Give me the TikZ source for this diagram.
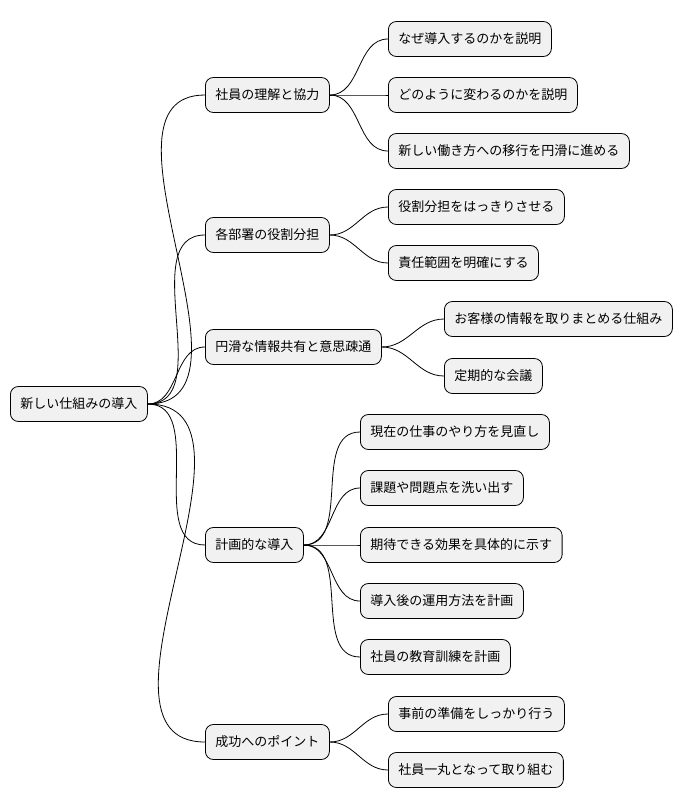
\documentclass[tikz,border=0pt]{standalone}
\usepackage{fontspec}
\setmainfont{Noto Sans CJK JP}
\begin{document}
\begin{tikzpicture}[x=1pt,y=-1pt,
  box/.style={draw=black,line width=0.8pt,fill={rgb,255:red,241;green,241;blue,241},rounded corners=8pt,minimum height=35pt,inner xsep=10pt,anchor=west,font=\fontsize{13}{15}\selectfont},
  con/.style={line width=0.8pt}]
\useasboundingbox (0,0) rectangle (698,809);
\node[box] (r) at (10,404) {新しい仕組みの導入};
\node[box] (a) at (205,95) {社員の理解と協力};
\node[box] (b) at (205,235) {各部署の役割分担};
\node[box] (c) at (205,347) {円滑な情報共有と意思疎通};
\node[box] (d) at (205,545) {計画的な導入};
\node[box] (e) at (205,742) {成功へのポイント};
\node[box] (a1) at (388,39) {なぜ導入するのかを説明};
\node[box] (a2) at (388,95) {どのように変わるのかを説明};
\node[box] (a3) at (388,151) {新しい働き方への移行を円滑に進める};
\node[box] (b1) at (388,207) {役割分担をはっきりさせる};
\node[box] (b2) at (388,263) {責任範囲を明確にする};
\node[box] (c1) at (444,319) {お客様の情報を取りまとめる仕組み};
\node[box] (c2) at (444,376) {定期的な会議};
\node[box] (d1) at (360,432) {現在の仕事のやり方を見直し};
\node[box] (d2) at (360,488) {課題や問題点を洗い出す};
\node[box] (d3) at (360,545) {期待できる効果を具体的に示す};
\node[box] (d4) at (360,601) {導入後の運用方法を計画};
\node[box] (d5) at (360,657) {社員の教育訓練を計画};
\node[box] (e1) at (388,714) {事前の準備をしっかり行う};
\node[box] (e2) at (388,770) {社員一丸となって取り組む};
\foreach \p/\c in {r/a,r/b,r/c,r/d,r/e,a/a1,a/a2,a/a3,b/b1,b/b2,c/c1,c/c2,d/d1,d/d2,d/d3,d/d4,d/d5,e/e1,e/e2}
  \draw[con] (\p.east) to[out=0,in=180] (\c.west);
\end{tikzpicture}
\end{document}
